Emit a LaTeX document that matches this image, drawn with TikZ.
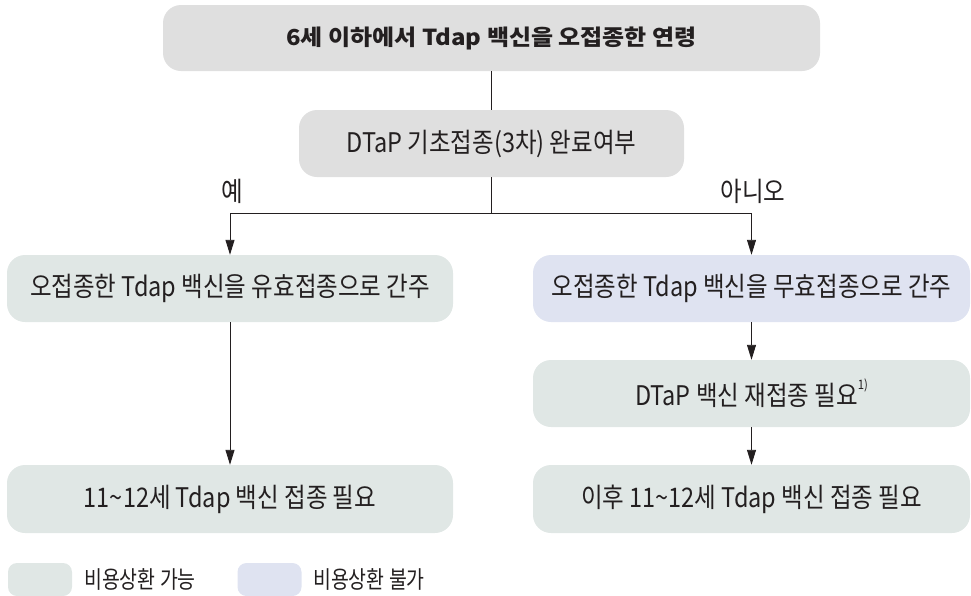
\documentclass[tikz,border=0pt]{standalone}
\usepackage{fontspec}
\setmainfont{Noto Sans CJK KR}
\newfontfamily\kr{Noto Sans CJK KR}[FakeStretch=0.87]
\newfontfamily\krl{Noto Sans CJK KR}[FakeStretch=0.81]
\newfontfamily\krb{Noto Sans CJK KR}[FakeStretch=1.09]
\usetikzlibrary{arrows.meta}
\definecolor{txt}{HTML}{231F20}
\definecolor{graybox}{HTML}{DFDFDF}
\definecolor{okbox}{HTML}{E0E7E5}
\definecolor{nobox}{HTML}{DFE3F1}
\tikzset{
  box/.style={rounded corners=18pt, inner sep=0pt, text=txt,
    font=\kr\fontsize{27}{31}\selectfont, minimum height=67pt},
  okb/.style={box, fill=okbox},
  nob/.style={box, fill=nobox},
  lbl/.style={text=txt, inner sep=0pt, font=\kr\fontsize{27}{31}\selectfont},
  legtxt/.style={text=txt, inner sep=0pt, anchor=west, font=\krl\fontsize{24}{28}\selectfont},
  swatch/.style={rounded corners=9pt, minimum width=64pt, minimum height=33pt, inner sep=0pt},
  conn/.style={draw=txt, line width=0.9pt},
  arr/.style={conn, -{Triangle[width=9pt,length=15pt]}}
}
\begin{document}
\begin{tikzpicture}[x=1pt,y=-1pt]
\useasboundingbox (0,0) rectangle (971,595);
% boxes
\node[box, fill=graybox, minimum width=657pt, minimum height=66pt,
      font=\krb\bfseries\fontsize{22}{26}\selectfont] (top) at (491.5,38)
      {6세 이하에서 Tdap 백신을 오접종한 연령};
\node[box, fill=graybox, minimum width=385pt] (q) at (491.5,143.5)
      {DTaP 기초접종(3차) 완료여부};
\node[okb, minimum width=446pt] (yes) at (230,288.5)
      {오접종한 Tdap 백신을 유효접종으로 간주};
\node[nob, minimum width=437pt] (no) at (751.5,288.5)
      {오접종한 Tdap 백신을 무효접종으로 간주};
\node[okb, minimum width=437pt] (dtap) at (751.5,393.5)
      {DTaP 백신 재접종 필요\raisebox{0.6em}{\fontsize{13}{13}\selectfont 1)}};
\node[okb, minimum width=446pt, minimum height=68pt] (need) at (230,499)
      {11\char`~12세 Tdap 백신 접종 필요};
\node[okb, minimum width=437pt, minimum height=68pt] (after) at (751.5,499)
      {이후 11\char`~12세 Tdap 백신 접종 필요};
% branch labels
\node[lbl] (ylab) at (232,191) {예};
\node[lbl] (nlab) at (753,191) {아니오};
% connectors
\coordinate (split) at (491.5,213);
\draw[conn] (top) -- (q);
\draw[conn] (q) -- (split);
\draw[arr] (split) -| (yes);
\draw[arr] (split) -| (no);
\draw[arr] (yes) -- (need);
\draw[arr] (no) -- (dtap);
\draw[arr] (dtap) -- (after);
% legend
\node[swatch, fill=okbox] (sw1) at (40,579.5) {};
\node[legtxt] (lg1) at (84,579) {비용상환 가능};
\node[swatch, fill=nobox] (sw2) at (269.5,579.5) {};
\node[legtxt] (lg2) at (313,579) {비용상환 불가};
\end{tikzpicture}
\end{document}
